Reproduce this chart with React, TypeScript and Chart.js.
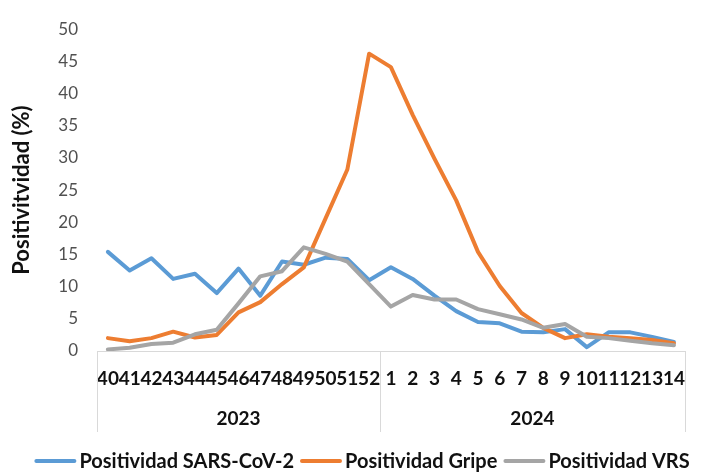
import React, { useEffect, useRef } from "react";
import { Chart, registerables } from "chart.js";

Chart.register(...registerables);

const weeks = ["40","41","42","43","44","45","46","47","48","49","50","51","52","1","2","3","4","5","6","7","8","9","10","11","12","13","14"];
const yearLabels = ["2023", "2024"];
const yearSpans = [13, 14];

const sarsCov2 = [15.4,12.5,14.4,11.2,12.0,9.0,12.8,8.6,13.9,13.4,14.5,14.3,11.0,13.0,11.2,8.6,6.2,4.5,4.3,3.0,2.9,3.4,0.6,2.9,2.9,2.2,1.4];
const gripe = [2.0,1.5,2.0,3.0,2.1,2.5,6.0,7.6,10.4,13.0,20.6,28.2,46.2,44.1,36.7,29.9,23.4,15.4,10.1,5.9,3.6,2.0,2.6,2.2,2.0,1.7,1.2];
const vrs = [0.25,0.5,1.1,1.3,2.6,3.3,7.4,11.6,12.4,16.1,15.1,13.9,10.4,6.9,8.7,8.0,8.0,6.5,5.7,4.9,3.6,4.2,2.2,2.0,1.6,1.2,0.9];

const seriesLabels = ["Positividad SARS-CoV-2", "Positividad Gripe", "Positividad VRS"];
const colors = ["#5B9BD5", "#ED7D31", "#A5A5A5"];

const FONT = "Lato, 'Open Sans', 'Noto Sans', sans-serif";

const groupAxisPlugin = {
  id: "groupAxis",
  afterDraw(chart: any) {
    const { ctx, chartArea, scales } = chart;
    const x = scales.x;
    const step = x.getPixelForValue(1) - x.getPixelForValue(0);
    ctx.save();
    const bounds: number[] = [chartArea.left];
    let idx = 0;
    yearSpans.forEach((s) => {
      idx += s;
      bounds.push(x.getPixelForValue(idx - 1) + step / 2);
    });
    ctx.strokeStyle = "#d9d9d9";
    ctx.lineWidth = 1;
    bounds.forEach((bx) => {
      const px = Math.round(bx) + 0.5;
      ctx.beginPath();
      ctx.moveTo(px, chartArea.bottom);
      ctx.lineTo(px, chartArea.bottom + 81);
      ctx.stroke();
    });
    ctx.fillStyle = "#111";
    ctx.font = `bold 19px ${FONT}`;
    ctx.textAlign = "center";
    ctx.textBaseline = "middle";
    yearLabels.forEach((lab, i) => {
      ctx.fillText(lab, (bounds[i] + bounds[i + 1]) / 2, chartArea.bottom + 68);
    });
    ctx.font = `bold 20px ${FONT}`;
    ctx.textAlign = "left";
    const lineLen = 42;
    const gapText = 3;
    const gapItem = 6;
    const widths = seriesLabels.map((l) => ctx.measureText(l).width);
    const total = widths.reduce((a, w) => a + lineLen + gapText + w, 0) + gapItem * (seriesLabels.length - 1);
    let lx = 362 - total / 2;
    const ly = 461;
    seriesLabels.forEach((l, i) => {
      ctx.strokeStyle = colors[i];
      ctx.lineWidth = 4;
      ctx.lineCap = "round";
      ctx.beginPath();
      ctx.moveTo(lx + 2, ly);
      ctx.lineTo(lx + lineLen - 2, ly);
      ctx.stroke();
      lx += lineLen + gapText;
      ctx.fillStyle = "#111";
      ctx.fillText(l, lx, ly + 1);
      lx += widths[i] + gapItem;
    });
    ctx.restore();
  },
};

export default function App() {
  const ref = useRef<HTMLCanvasElement | null>(null);
  useEffect(() => {
    if (!ref.current) return;
    const series = [sarsCov2, gripe, vrs];
    const chart = new Chart(ref.current, {
      type: "line",
      data: {
        labels: weeks,
        datasets: series.map((d, i) => ({
          label: seriesLabels[i],
          data: d,
          borderColor: colors[i],
          backgroundColor: colors[i],
          borderWidth: 4,
          pointRadius: 0,
          tension: 0,
          borderCapStyle: "round",
          borderJoinStyle: "round",
          order: 3 - i,
        })),
      },
      options: {
        responsive: false,
        animation: false,
        layout: { padding: { top: 17, right: 4, left: 0, bottom: 0 } },
        plugins: { legend: { display: false }, tooltip: { enabled: false } },
        scales: {
          x: {
            offset: true,
            grid: { display: false, drawTicks: false },
            border: { display: true, color: "#d9d9d9", width: 1 },
            ticks: {
              autoSkip: false,
              maxRotation: 0,
              minRotation: 0,
              padding: 16,
              color: "#111",
              font: { family: FONT, size: 19, weight: "bold" },
            },
            afterFit(scale: any) {
              scale.height = 124;
            },
          },
          y: {
            min: 0,
            max: 50,
            grid: { display: false, drawTicks: false },
            border: { display: false },
            ticks: {
              stepSize: 5,
              padding: 19,
              color: "#505050",
              font: { family: FONT, size: 17 },
            },
            title: {
              display: true,
              text: "Positivitvidad (%)",
              color: "#111",
              font: { family: FONT, size: 22, weight: "bold" },
              padding: { top: 9, bottom: 0 },
            },
            afterFit(scale: any) {
              scale.width = 97;
            },
          },
        },
      },
      plugins: [groupAxisPlugin],
    } as any);
    return () => chart.destroy();
  }, []);
  return (
    <div style={{ position: "absolute", left: 0, top: 0, width: 701, height: 475, background: "#fff" }}>
      <canvas ref={ref} width={701} height={475} style={{ display: "block" }} />
    </div>
  );
}
